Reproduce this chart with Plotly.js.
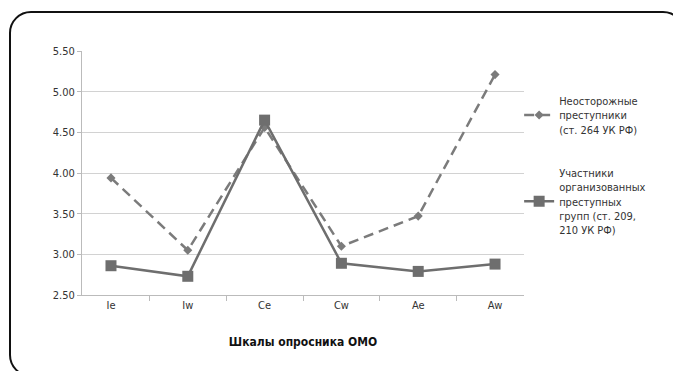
<!DOCTYPE html>
<html>
<head>
<meta charset="utf-8">
<script src="https://cdn.plot.ly/plotly-3.0.1.min.js"></script>
<style>
html,body{margin:0;padding:0;background:#fff;overflow:hidden;}
#frame{position:absolute;left:9px;top:11px;width:676px;height:366px;border:2px solid #111;border-radius:22px;box-sizing:border-box;}
#chart{position:absolute;left:0;top:0;width:673px;height:371px;}
</style>
</head>
<body>
<div id="frame"></div>
<div id="chart"></div>
<script>
const categories = ["Ie", "Iw", "Ce", "Cw", "Ae", "Aw"];
const careless = [3.94, 3.05, 4.56, 3.10, 3.47, 5.21];
const organized = [2.86, 2.73, 4.65, 2.89, 2.79, 2.88];
const seriesNames = [
  "Неосторожные<br>преступники<br>(ст. 264 УК РФ)",
  "Участники<br>организованных<br>преступных<br>групп (ст. 209,<br>210 УК РФ)"
];
const yTicks = [2.5, 3.0, 3.5, 4.0, 4.5, 5.0, 5.5];
const yTickText = ["2.50", "3.00", "3.50", "4.00", "4.50", "5.00", "5.50"];
const xTitle = "Шкалы опросника ОМО";

const font = "'DejaVu Sans Condensed', 'Liberation Sans Narrow', 'Arial Narrow', 'Liberation Sans', sans-serif";

const traces = [
  {
    x: categories, y: careless, name: seriesNames[0], type: "scatter", mode: "lines+markers",
    legendgroup: "a",
    line: {color: "#7b7b7b", width: 2.5, dash: "10px,6px"},
    marker: {symbol: "diamond", size: 7, color: "#7b7b7b"}
  },
  {
    x: categories, y: organized, name: seriesNames[1], type: "scatter", mode: "lines+markers",
    legendgroup: "b",
    line: {color: "#6e6e6e", width: 2.5},
    marker: {symbol: "square", size: 11, color: "#6e6e6e"}
  }
];

const layout = {
  width: 673, height: 371,
  paper_bgcolor: "rgba(0,0,0,0)", plot_bgcolor: "rgba(0,0,0,0)",
  margin: {l: 82, r: 149, t: 51, b: 76},
  font: {family: font, size: 11, color: "#333"},
  showlegend: true,
  legend: {x: 0.989, xanchor: "left", y: 0.852, yanchor: "top", tracegroupgap: 26,
           traceorder: "grouped",
           font: {family: font, size: 11, color: "#333"}, itemwidth: 30},
  xaxis: {
    type: "category", tickson: "boundaries", ticks: "outside", ticklen: 5, tickcolor: "#bbb",
    showline: true, linecolor: "#bbb", linewidth: 1, showgrid: false,
    tickfont: {family: font, size: 11, color: "#333"},
    title: {text: "<b>" + xTitle + "</b>", font: {family: font, size: 12, color: "#111"}, standoff: 26}
  },
  yaxis: {
    range: [2.5, 5.5], tickvals: yTicks, ticktext: yTickText,
    ticks: "outside", ticklen: 4, tickcolor: "#bbb",
    showline: true, linecolor: "#bbb", linewidth: 1,
    showgrid: true, gridcolor: "#d2d2d2", gridwidth: 1, zeroline: false,
    tickfont: {family: font, size: 11, color: "#333"}
  }
};

Plotly.newPlot("chart", traces, layout, {displayModeBar: false, staticPlot: true});
</script>
</body>
</html>
